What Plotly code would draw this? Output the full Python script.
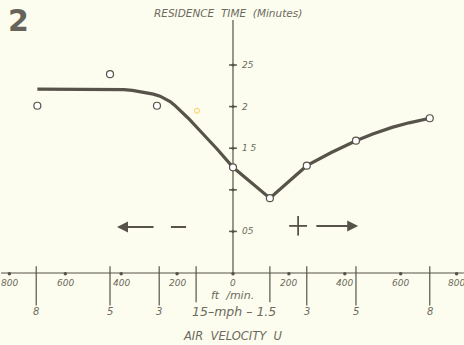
import plotly.graph_objects as go

# ---- data ----
# observed points: air velocity (ft/min, negative = "-" direction) and residence time (minutes)
point_x = [-700, -440, -272, 0, 132, 264, 440, 704]
point_y = [2.01, 2.39, 2.01, 1.27, 0.90, 1.29, 1.59, 1.86]
faint_point_x = [-129]
faint_point_y = [1.95]

# fitted curve
curve_x = [-700, -420, -390, -360, -333, -310, -285, -261, -240, -225, -210, -190, -160, -118, -57, 0,
           132, 264, 350, 440, 500, 569, 630, 704]
curve_y = [2.21, 2.21, 2.205, 2.195, 2.18, 2.17, 2.15, 2.125, 2.09, 2.06, 2.02, 1.955, 1.86, 1.71, 1.49, 1.27,
           0.90, 1.29, 1.445, 1.59, 1.67, 1.75, 1.805, 1.86]

# axis ticks
y_ticks = [0.5, 1.0, 1.5, 2.0, 2.5]
y_tick_labels = ["05", "", "1 5", "2", "25"]
ftmin_ticks = [-800, -600, -400, -200, 0, 200, 400, 600, 800]
ftmin_labels = ["800", "600", "400", "200", "0", "200", "400", "600", "800"]
mph_ticks = [-8, -5, -3, -1.5, 1.5, 3, 5, 8]
mph_labels = ["8", "5", "3", "", "", "3", "5", "8"]
FT_PER_MPH = 88

INK = "#57534a"
TXT = "#6c6a5e"
BG = "#fcfdee"
FONT = "DejaVu Sans"

fig = go.Figure()

# axis lines
fig.add_trace(go.Scatter(x=[-830, 826], y=[0, 0], mode="lines",
                         line=dict(color=INK, width=1.2), hoverinfo="skip"))
fig.add_trace(go.Scatter(x=[0, 0], y=[0, 3.04], mode="lines",
                         line=dict(color=INK, width=1.2), hoverinfo="skip"))

# y ticks (small crosses on the vertical axis)
for t in y_ticks:
    fig.add_trace(go.Scatter(x=[-14, 14], y=[t, t], mode="lines",
                             line=dict(color=INK, width=1.5), hoverinfo="skip"))
fig.add_trace(go.Scatter(x=[0] * len(y_ticks), y=y_ticks, mode="markers",
                         marker=dict(color=INK, size=3), hoverinfo="skip"))

# ft/min ticks: dots on the axis
fig.add_trace(go.Scatter(x=ftmin_ticks, y=[-0.01] * len(ftmin_ticks), mode="markers",
                         marker=dict(color=INK, size=3.5), hoverinfo="skip"))

# mph ticks: vertical bars crossing the axis
for m in mph_ticks:
    xv = m * FT_PER_MPH
    lo = -0.35 if abs(m) == 1.5 else -0.39
    fig.add_trace(go.Scatter(x=[xv, xv], y=[0.08, lo], mode="lines",
                             line=dict(color=INK, width=1.2), hoverinfo="skip"))

# curve
fig.add_trace(go.Scatter(x=curve_x, y=curve_y, mode="lines",
                         line=dict(color=INK, width=3.2, shape="linear"),
                         hoverinfo="skip"))

# points
fig.add_trace(go.Scatter(x=point_x, y=point_y, mode="markers",
                         marker=dict(symbol="circle", size=7, color="white",
                                     line=dict(color=INK, width=1.2))))
fig.add_trace(go.Scatter(x=faint_point_x, y=faint_point_y, mode="markers",
                         marker=dict(symbol="circle-open", size=5,
                                     line=dict(color="#9c9a92", width=1))))

# direction arrows
fig.add_trace(go.Scatter(x=[-222, -168], y=[0.553, 0.553], mode="lines",
                         line=dict(color=INK, width=2), hoverinfo="skip"))
fig.add_trace(go.Scatter(x=[201, 265], y=[0.566, 0.566], mode="lines",
                         line=dict(color=INK, width=1.8), hoverinfo="skip"))
fig.add_trace(go.Scatter(x=[233, 233], y=[0.45, 0.685], mode="lines",
                         line=dict(color=INK, width=1.8), hoverinfo="skip"))

ann = []
ann.append(dict(x=-415, y=0.553, ax=-279, ay=0.553, xref="x", yref="y", axref="x", ayref="y",
                showarrow=True, arrowhead=2, arrowsize=1.1, arrowwidth=2, arrowcolor=INK, text=""))
ann.append(dict(x=448, y=0.566, ax=293, ay=0.566, xref="x", yref="y", axref="x", ayref="y",
                showarrow=True, arrowhead=2, arrowsize=1.1, arrowwidth=2, arrowcolor=INK, text=""))

# y tick labels
for t, lab in zip(y_ticks, y_tick_labels):
    if lab:
        ann.append(dict(x=24, y=t, xref="x", yref="y", text="<i>" + lab + "</i>", showarrow=False,
                        xanchor="left", yanchor="middle", font=dict(family=FONT, size=9, color=TXT)))

# ft/min tick labels
for t, lab in zip(ftmin_ticks, ftmin_labels):
    ann.append(dict(x=t, y=-0.12, xref="x", yref="y", text="<i>" + lab + "</i>", showarrow=False,
                    xanchor="center", yanchor="middle", font=dict(family=FONT, size=9, color=TXT)))
ann.append(dict(x=0, y=-0.265, xref="x", yref="y", text="<i>ft  /min.</i>", showarrow=False,
                xanchor="center", yanchor="middle", font=dict(family=FONT, size=11, color=TXT)))

# mph labels
for m, lab in zip(mph_ticks, mph_labels):
    if lab:
        ann.append(dict(x=m * FT_PER_MPH, y=-0.46, xref="x", yref="y", text="<i>" + lab + "</i>",
                        showarrow=False, xanchor="center", yanchor="middle",
                        font=dict(family=FONT, size=10, color=TXT)))
ann.append(dict(x=5, y=-0.46, xref="x", yref="y", text="<i>15\u2013mph \u2013 1.5</i>", showarrow=False,
                xanchor="center", yanchor="middle", font=dict(family=FONT, size=12.5, color=TXT)))

# axis titles
ann.append(dict(x=0, y=-0.76, xref="x", yref="y", text="<i>AIR  VELOCITY  U</i>", showarrow=False,
                xanchor="center", yanchor="middle", font=dict(family=FONT, size=11.5, color=TXT)))
ann.append(dict(x=-290, y=3.125, xref="x", yref="y", text="<i>RESIDENCE  TIME  (Minutes)</i>",
                showarrow=False, xanchor="left", yanchor="middle",
                font=dict(family=FONT, size=10.5, color=TXT)))

# figure number
ann.append(dict(x=0.012, y=0.998, xref="paper", yref="paper", text="<b>2</b>", showarrow=False,
                xanchor="left", yanchor="top",
                font=dict(family="DejaVu Sans", size=30, color="#66645a")))

fig.update_layout(
    width=464, height=345,
    margin=dict(l=0, r=0, t=0, b=0),
    paper_bgcolor=BG, plot_bgcolor=BG,
    showlegend=False,
    xaxis=dict(range=[-833.6, 826.5], visible=False, fixedrange=True),
    yaxis=dict(range=[-0.865, 3.281], visible=False, fixedrange=True),
    annotations=ann,
)

fig.write_html("out.html", config={"displayModeBar": False},
               post_script="document.body.style.margin='0';document.body.style.overflow='hidden';")
